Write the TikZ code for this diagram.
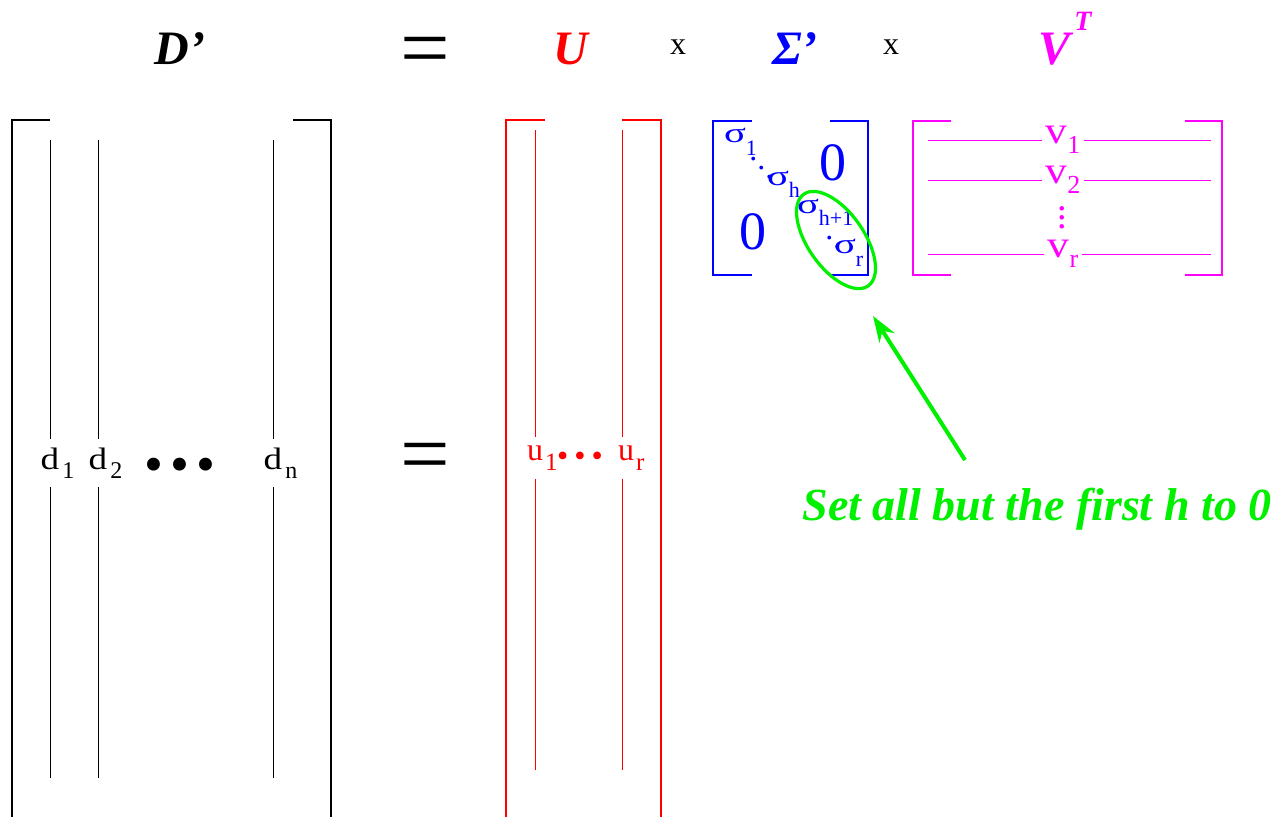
\documentclass[tikz,border=0pt]{standalone}
\usepackage{fontspec}
\usepackage{graphicx}
\setmainfont{Liberation Serif}
\usetikzlibrary{arrows.meta}
\definecolor{svdred}{RGB}{255,0,0}
\definecolor{svdblue}{RGB}{0,0,255}
\definecolor{svdmagenta}{RGB}{255,0,255}
\definecolor{svdgreen}{RGB}{0,240,0}
% lowered subscript: #1 drop, #2 size, #3 text
\newcommand{\lowsub}[3]{\raisebox{#1}[0pt]{\fontsize{#2}{#2}\selectfont #3}}
\newcommand{\wide}[2]{\scalebox{#1}[1]{#2}}
\tikzset{
  hdr/.style={font=\fontsize{24}{24}\selectfont\bfseries\itshape, inner sep=0pt, anchor=base},
  times/.style={font=\fontsize{16}{16}\selectfont, inner sep=0pt, anchor=base},
  eqsign/.style={font=\fontsize{44}{44}\selectfont, inner sep=0pt},
  bracket/.style={line width=1.1pt},
  colline/.style={line width=0.5pt},
  collab/.style={font=\fontsize{15.5}{15.5}\selectfont, inner sep=4pt},
  ulab/.style={font=\fontsize{16}{16}\selectfont, inner sep=4pt, text=svdred},
  vlab/.style={font=\fontsize{19}{19}\selectfont, inner sep=1.5pt, text=svdmagenta},
  siglab/.style={font=\fontsize{14}{14}\selectfont, inner sep=0pt, text=svdblue},
  zerolab/.style={font=\fontsize{27}{27}\selectfont, inner sep=0pt, text=svdblue},
  ring/.style={draw=svdgreen, line width=1.6pt},
  note/.style={font=\fontsize{23}{23}\selectfont\bfseries\itshape, text=svdgreen, inner sep=0pt, anchor=base},
  pointer/.style={-{Stealth[length=13pt, width=9pt]}, line width=2pt, draw=svdgreen}
}
\begin{document}
\begin{tikzpicture}[x=0.5pt, y=-0.5pt]
  \useasboundingbox (0,0) rectangle (1278,816);
  \clip (0,0) rectangle (1278,816);

  % header row
  \node[hdr] (dhead) at (180,64) {D’};
  \node[eqsign] (eqhead) at (425,57) {=};
  \node[hdr, text=svdred] (uhead) at (571,64) {U};
  \node[times] (xone) at (678,54) {x};
  \node[hdr, text=svdblue] (shead) at (795,64) {Σ’};
  \node[times] (xtwo) at (891,54) {x};
  \node[hdr, text=svdmagenta] (vhead) at (1065,64) {V\hspace{2pt}\raisebox{17pt}{\fontsize{14}{14}\selectfont T}};

  % D' with its columns
  \draw[bracket] (50,120) -- (12,120) -- (12,830);
  \draw[bracket] (293,120) -- (331,120) -- (331,830);
  \foreach \nm/\x/\s in {d1/50/1, d2/98/2, dn/273/n}{
    \node[collab] (\nm) at (\x,463) {\wide{1.2}{d}\rlap{\hspace{1.5pt}\lowsub{-4.5pt}{12}{\s}}};
    \draw[colline] (\x,140) -- (\nm);
    \draw[colline] (\nm) -- (\x,778);
  }
  \node[collab, font=\fontsize{27}{27}\selectfont, anchor=base] (ddots) at (180,482) {•\hspace{3.5pt}•\hspace{3.5pt}•};
  \node[eqsign] (eqmid) at (425,463) {=};

  % U
  \draw[bracket, svdred] (545,120) -- (506,120) -- (506,830);
  \draw[bracket, svdred] (622,120) -- (661,120) -- (661,830);
  \foreach \nm/\x/\s in {u1/535/1, ur/626/r}{
    \node[ulab] (\nm) at (\x,458) {u\rlap{\hspace{1pt}\lowsub{-5pt}{12.5}{\s}}};
  }
  \draw[colline, svdred] (535,130) -- (u1);
  \draw[colline, svdred] (u1) -- (535,770);
  \draw[colline, svdred] (622,130) -- (622,437);
  \draw[colline, svdred] (622,479) -- (622,770);
  \node[ulab, font=\fontsize{16}{16}\selectfont, anchor=base] (udots) at (580,466) {•\hspace{3pt}•\hspace{3pt}•};

  % Sigma'
  \draw[bracket, svdblue] (752,121) -- (713,121) -- (713,275) -- (752,275);
  \draw[bracket, svdblue] (830,121) -- (868,121) -- (868,275) -- (830,275);
  \node[siglab] (s1) at (735,142) {\wide{1.45}{σ}\rlap{\lowsub{-6.5pt}{11}{1}}};
  \node[siglab] (sh) at (778,184) {\wide{1.45}{σ}\rlap{\lowsub{-6pt}{11}{h}}};
  \node[siglab] (shp) at (808,212) {\wide{1.45}{σ}\rlap{\lowsub{-6pt}{11}{h+1}}};
  \node[siglab] (sr) at (845,253) {\wide{1.45}{σ}\rlap{\lowsub{-6.5pt}{11}{r}}};
  \node[siglab, font=\fontsize{16}{16}\selectfont, anchor=base west] (sdots) at (749,160) {.\raisebox{-4.5pt}{.}\raisebox{-9pt}{.}};
  \node[siglab, font=\fontsize{16}{16}\selectfont, anchor=base west] (tdots) at (825,239) {.\raisebox{-4.5pt}{.}};
  \node[zerolab] (zup) at (833,163) {0};
  \node[zerolab] (zlow) at (753,232) {0};

  % V^T
  \draw[bracket, svdmagenta] (951,121) -- (913,121) -- (913,275) -- (951,275);
  \draw[bracket, svdmagenta] (1185,121) -- (1222,121) -- (1222,275) -- (1185,275);
  \coordinate (vleft) at (928,0);
  \coordinate (vright) at (1211,0);
  \foreach \nm/\y/\s in {v1/140/1, v2/180/2, vr/254/r}{
    \node[vlab] (\nm) at (1063,\y) {\wide{1.15}{v}\lowsub{-5pt}{13}{\s}};
    \draw[colline, svdmagenta] (\nm.west) -- (\nm.west -| vleft);
    \draw[colline, svdmagenta] (\nm.east) -- (\nm.east -| vright);
  }
  \node[vlab, align=center, font=\fontsize{19}{4.5}\selectfont] (vdots) at (1062,218) {.\\.\\.};

  % truncation note
  \draw[ring, rotate around={-55:(836,240)}] (836,240) ellipse [x radius=28pt, y radius=14pt];
  \node[note] (note) at (1037,520) {Set all but the first h to 0};
  \coordinate (tail) at (965,460);
  \coordinate (tip) at (873,316);
  \draw[pointer] (tail) -- (tip);
\end{tikzpicture}
\end{document}
